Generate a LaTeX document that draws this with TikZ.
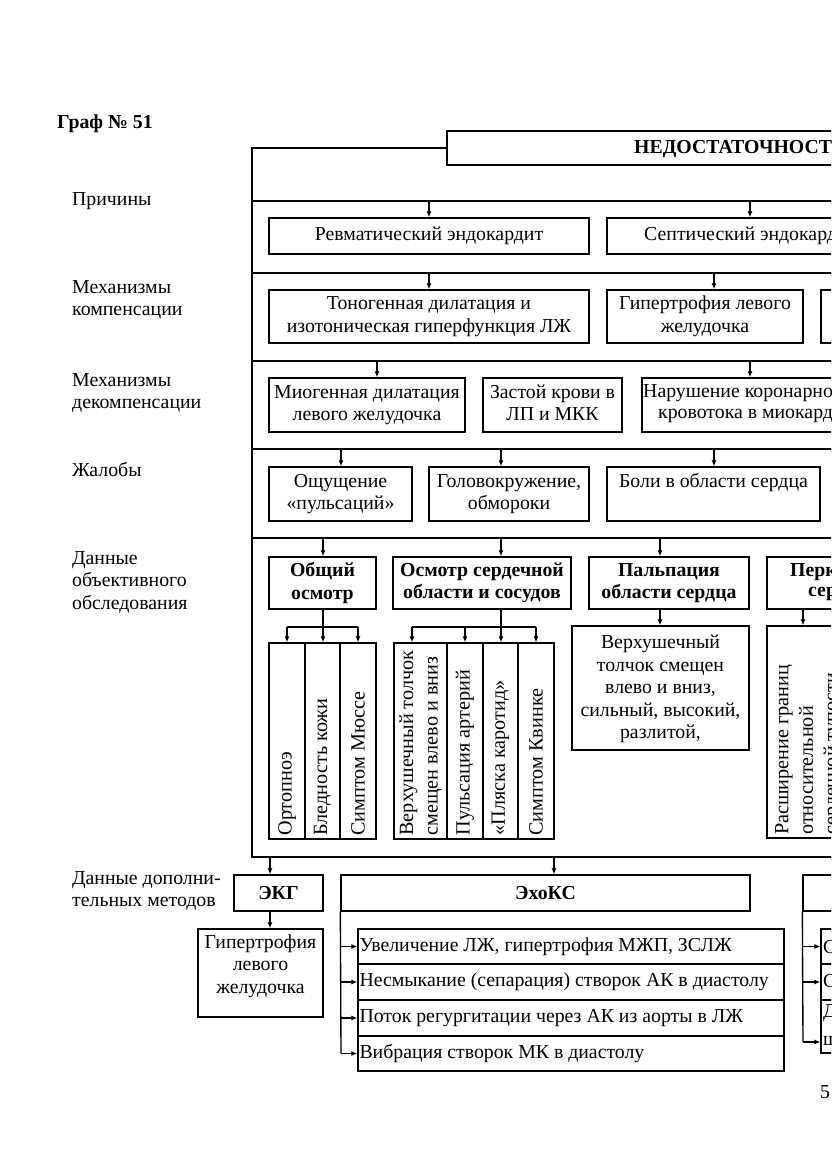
\documentclass[tikz,border=0pt]{standalone}
\usepackage{fontspec}
\setmainfont{Liberation Serif}
\usetikzlibrary{arrows.meta}
\newcommand\fs{\fontsize{19.8}{22.5}\selectfont}
\newcommand\fsv{\fontsize{20.2}{24.5}\selectfont}
\begin{document}
\begin{tikzpicture}[x=1pt,y=-1pt,
  ln/.style={line width=1.35pt},
  arr/.style={ln,-{Latex[length=6pt,width=5pt]}},
  bx/.style={draw,ln,inner sep=0pt,align=center,font=\fs},
  hd/.style={bx,font=\fs\bfseries},
  lbl/.style={anchor=west,align=left,inner sep=0pt,font=\fs},
  txt/.style={inner sep=0pt,align=center,font=\fs},
  vt/.style={rotate=90,anchor=west,inner sep=0pt,align=left,font=\fsv},
]
\useasboundingbox (0,0) rectangle (831,1174);
\fill[white] (0,0) rectangle (831,1174);
\clip (0,0) rectangle (831,1174);

% heading
\node[lbl,font=\fs\bfseries] (graf) at (57,124) {Граф № 51};
\node[bx,minimum width=753pt,minimum height=34pt] (T) at (823.5,148) {};
\node[lbl,font=\fs\bfseries] (Tt) at (634,149) {НЕДОСТАТОЧНОСТ};

% left labels
\node[lbl] (l1) at (72,201) {Причины};
\node[lbl] (l2) at (72,300) {Механизмы\\компенсации};
\node[lbl] (l3) at (72,393) {Механизмы\\декомпенсации};
\node[lbl] (l4) at (72,470) {Жалобы};
\node[lbl] (l5) at (72,582) {Данные\\объективного\\обследования};
\node[lbl] (l6) at (72,891) {Данные дополни-\\тельных методов};

% frame
\coordinate (F0) at (252,148);
\coordinate (F1) at (252,201);
\coordinate (F2) at (252,273);
\coordinate (F3) at (252,361);
\coordinate (F4) at (252,449);
\coordinate (F5) at (252,538);
\coordinate (F6) at (252,857);
\draw[ln] (T.west) -- (F0) -- (F6) -- (1200,0 |- F6);
\foreach \c in {F1,F2,F3,F4,F5} \draw[ln] (\c) -- (1200,0 |- \c);

% row 1
\node[bx,minimum width=320pt,minimum height=36pt] (r1a) at (429,236) {Ревматический эндокардит};
\node[bx,minimum width=593pt,minimum height=36pt] (r1b) at (903.5,236) {};
\node[txt,anchor=west] (r1bt) at (644,236) {Септический эндокард};
\draw[arr] (429,0 |- F1) -- (r1a.north);
\draw[arr] (750,0 |- F1) -- (750,0 |- r1b.north);

% row 2
\node[bx,minimum width=320pt,minimum height=53pt] (r2a) at (429,316.5) {Тоногенная дилатация и\\изотоническая гиперфункция ЛЖ};
\node[bx,minimum width=196pt,minimum height=53pt] (r2b) at (705,316.5) {Гипертрофия левого\\желудочка};
\node[bx,minimum width=379pt,minimum height=53pt] (r2c) at (1010.5,316.5) {};
\draw[arr] (429,0 |- F2) -- (r2a.north);
\draw[arr] (714,0 |- F2) -- (714,0 |- r2b.north);

% row 3
\node[bx,minimum width=196pt,minimum height=54pt] (r3a) at (367,405) {Миогенная дилатация\\левого желудочка};
\node[bx,minimum width=139pt,minimum height=54pt] (r3b) at (552.5,405) {};
\node[txt] (r3bt) at (552.5,403) {Застой крови в\\ЛП и МКК};
\node[bx,minimum width=558pt,minimum height=54pt] (r3c) at (921,405) {};
\node[txt,anchor=west] (r3t1) at (643,393) {Нарушение коронарно};
\node[txt,anchor=west] (r3t2) at (658,416) {кровотока в миокард};
\draw[arr] (377,0 |- F3) -- (377,0 |- r3a.north);
\draw[arr] (750,0 |- F3) -- (750,0 |- r3c.north);

% row 4
\node[bx,minimum width=143pt,minimum height=54pt] (r4a) at (340.5,494) {Ощущение\\«пульсаций»};
\node[bx,minimum width=160pt,minimum height=54pt] (r4b) at (509,494) {Головокружение,\\обмороки};
\node[bx,minimum width=213pt,minimum height=54pt] (r4c) at (713.5,494) {};
\node[txt] (r4ct) at (713.5,483) {Боли в области сердца};
\draw[arr] (341,0 |- F4) -- (341,0 |- r4a.north);
\draw[arr] (501,0 |- F4) -- (501,0 |- r4b.north);
\draw[arr] (714,0 |- F4) -- (714,0 |- r4c.north);

% row 5
\node[hd,minimum width=107pt,minimum height=52pt] (r5a) at (322.5,583) {Общий\\осмотр};
\node[hd,minimum width=178pt,minimum height=52pt] (r5b) at (482,583) {Осмотр сердечной\\области и сосудов};
\node[hd,minimum width=160pt,minimum height=52pt] (r5c) at (669,583) {Пальпация\\области сердца};
\node[bx,minimum width=433pt,minimum height=52pt] (r5d) at (983.5,583) {};
\node[txt,anchor=west,font=\fs\bfseries] (r5dt1) at (790,572) {Перк};
\node[txt,anchor=west,font=\fs\bfseries] (r5dt2) at (808,594) {сер};
\draw[arr] (323,0 |- F5) -- (323,0 |- r5a.north);
\draw[arr] (501,0 |- F5) -- (501,0 |- r5b.north);
\draw[arr] (660,0 |- F5) -- (660,0 |- r5c.north);

% sub cells of general exam
\node[bx,minimum width=36pt,minimum height=196pt] (c11) at (287,741) {};
\node[bx,minimum width=35pt,minimum height=196pt] (c12) at (322.5,741) {};
\node[bx,minimum width=36pt,minimum height=196pt] (c13) at (358,741) {};
\node[vt] (t11) at ([yshift=4pt]c11.south) {Ортопноэ};
\node[vt] (t12) at ([yshift=4pt]c12.south) {Бледность кожи};
\node[vt] (t13) at ([yshift=4pt]c13.south) {Симптом Мюссе};
\coordinate (B1) at (323,627);
\draw[ln] (323,0 |- r5a.south) -- (B1);
\draw[ln] (287,0 |- B1) -- (358,0 |- B1);
\draw[arr] (287,0 |- B1) -- (c11.north);
\draw[arr] (B1) -- (323,0 |- c12.north);
\draw[arr] (358,0 |- B1) -- (c13.north);

% sub cells of heart region exam
\node[bx,minimum width=53pt,minimum height=196pt] (c21) at (420.5,741) {};
\node[bx,minimum width=36pt,minimum height=196pt] (c22) at (465,741) {};
\node[bx,minimum width=35pt,minimum height=196pt] (c23) at (500.5,741) {};
\node[bx,minimum width=36pt,minimum height=196pt] (c24) at (536,741) {};
\node[vt] (t21) at ([yshift=4pt]c21.south) {Верхушечный толчок\\смещен влево и вниз};
\node[vt] (t22) at ([yshift=4pt]c22.south) {Пульсация артерий};
\node[vt] (t23) at ([yshift=4pt]c23.south) {«Пляска каротид»};
\node[vt] (t24) at ([yshift=4pt]c24.south) {Симптом Квинке};
\coordinate (B2) at (501,627);
\draw[ln] (501,0 |- r5b.south) -- (B2);
\draw[ln] (412,0 |- B2) -- (536,0 |- B2);
\draw[arr] (412,0 |- B2) -- (412,0 |- c21.north);
\draw[arr] (465,0 |- B2) -- (c22.north);
\draw[arr] (B2) -- (501,0 |- c23.north);
\draw[arr] (536,0 |- B2) -- (c24.north);

% palpation
\node[bx,minimum width=177pt,minimum height=124pt] (p) at (660.5,688) {};
\node[txt,anchor=north] (pt) at (660.5,635) {Верхушечный\\толчок смещен\\влево и вниз,\\сильный, высокий,\\разлитой,};
\draw[arr] (660,0 |- r5c.south) -- (660,0 |- p.north);

% percussion
\node[bx,minimum width=433pt,minimum height=212pt] (q) at (983.5,732) {};
\node[vt,anchor=north west] (qt) at (775,835) {Расширение границ\\относительной\\сердечной тупости};
\draw[arr] (803,0 |- r5d.south) -- (803,0 |- q.north);

% additional methods
\node[hd,minimum width=89pt,minimum height=36pt] (E) at (278.5,893) {ЭКГ};
\node[hd,minimum width=409pt,minimum height=36pt] (X) at (545.5,893) {ЭхоКС};
\node[bx,minimum width=397pt,minimum height=36pt] (M3) at (1001.5,893) {};
\draw[arr] (270,0 |- F6) -- (270,0 |- E.north);
\draw[arr] (554,0 |- F6) -- (554,0 |- X.north);

\node[bx,minimum width=125pt,minimum height=88pt] (Eg) at (260.5,973) {};
\node[txt] (Egt) at (260.5,966) {Гипертрофия\\левого\\желудочка};
\draw[arr] (270,0 |- E.south) -- (270,0 |- Eg.north);

\node[bx,minimum width=426pt,minimum height=35pt] (e1) at (571,946.5) {};
\node[bx,minimum width=426pt,minimum height=36pt] (e2) at (571,982) {};
\node[bx,minimum width=426pt,minimum height=36pt] (e3) at (571,1018) {};
\node[bx,minimum width=426pt,minimum height=35pt] (e4) at (571,1053.5) {};
\node[txt,anchor=west] (et1) at ([xshift=2pt]e1.west) {Увеличение ЛЖ, гипертрофия МЖП, ЗСЛЖ};
\node[txt,anchor=west] (et2) at ([xshift=2pt]e2.west) {Несмыкание (сепарация) створок АК в диастолу};
\node[txt,anchor=west] (et3) at ([xshift=2pt]e3.west) {Поток регургитации через АК из аорты в ЛЖ};
\node[txt,anchor=west] (et4) at ([xshift=2pt]e4.west) {Вибрация створок МК в диастолу};
\draw[ln] (X.south west) -- (341,0 |- e4.west);
\foreach \e in {e1,e2,e3,e4} \draw[arr] (341,0 |- \e.west) -- (\e.west);

\node[bx,minimum width=379pt,minimum height=35pt] (f1) at (1010.5,946.5) {};
\node[bx,minimum width=379pt,minimum height=36pt] (f2) at (1010.5,982) {};
\node[bx,minimum width=379pt,minimum height=53pt] (f3) at (1010.5,1026.5) {};
\node[txt,anchor=west] (ft1) at (823,947) {С};
\node[txt,anchor=west] (ft2) at (823,981) {С};
\node[txt,anchor=west] (ft3) at (823,1013) {Д};
\node[txt,anchor=west] (ft4) at (823,1041) {ш};
\coordinate (f3a) at ([yshift=-15.5pt]f3.west);
\draw[ln] (M3.south west) -- (803,0 |- f3a);
\draw[arr] (803,0 |- f1.west) -- (f1.west);
\draw[arr] (803,0 |- f2.west) -- (f2.west);
\draw[arr] (803,0 |- f3a) -- (f3a);

\node[txt,anchor=west] (pg) at (820,1092) {5};
\end{tikzpicture}
\end{document}
